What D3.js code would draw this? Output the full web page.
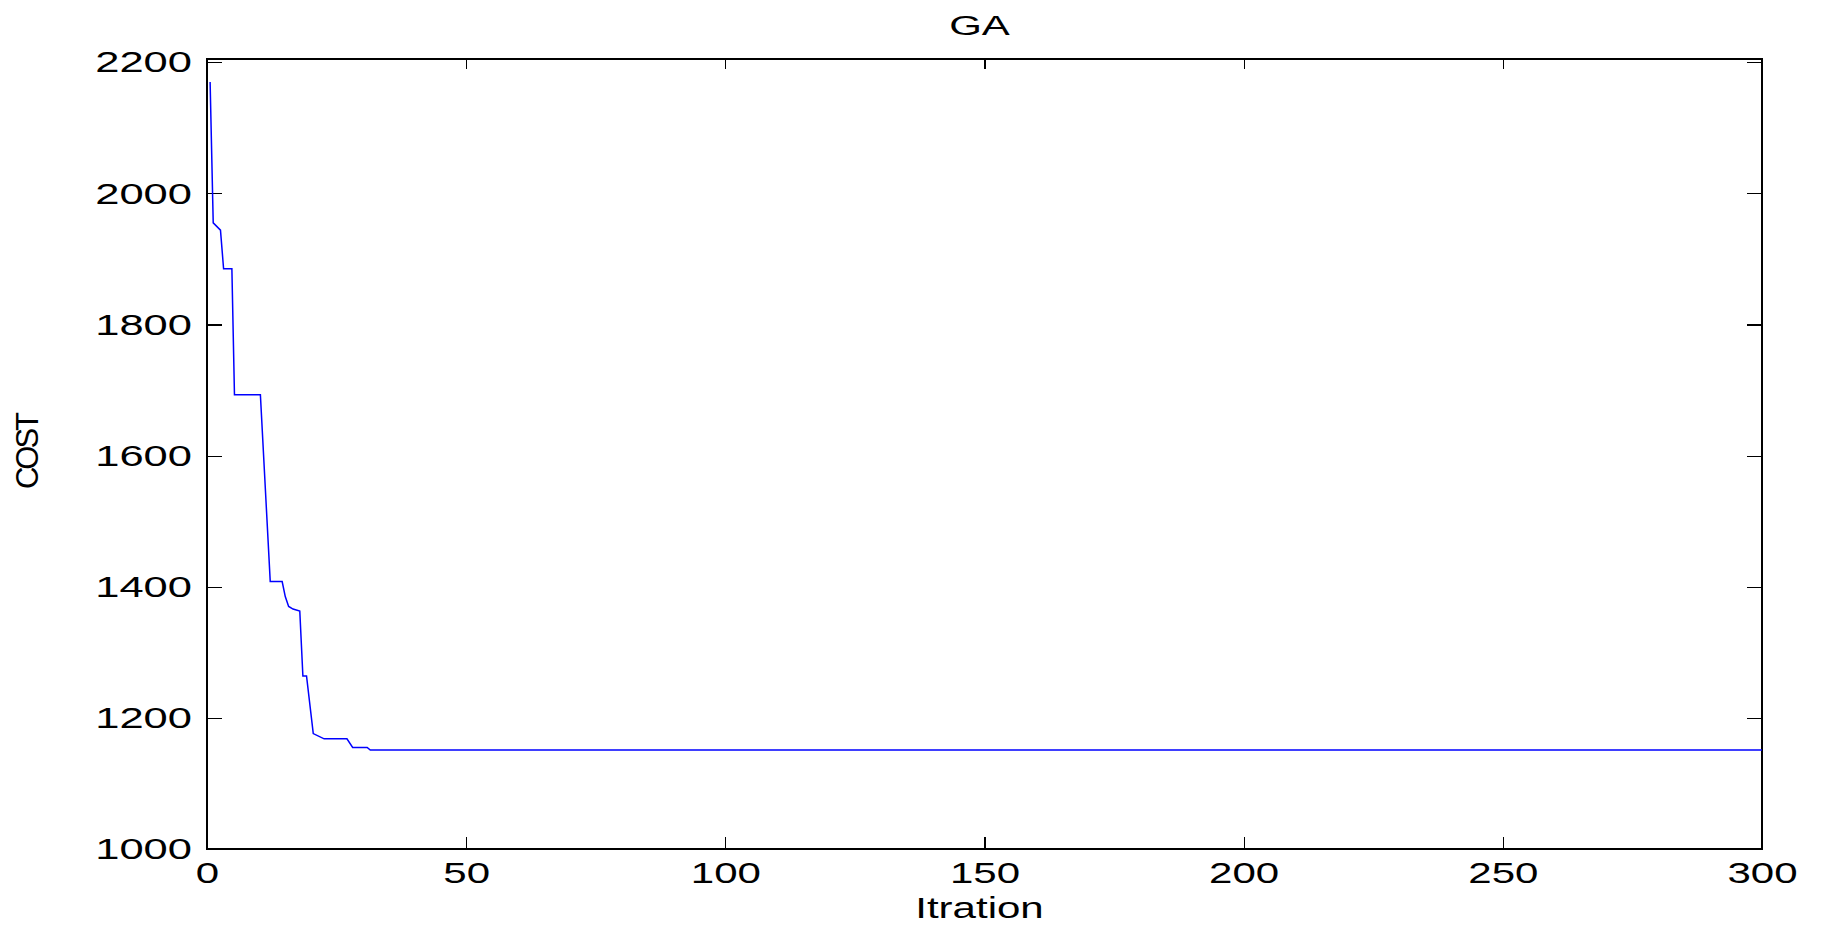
<!DOCTYPE html>
<meta charset="utf-8">
<style>
body { margin: 0; background: #fff; }
text { font-family: "Liberation Sans", Arial, sans-serif; fill: #000; }
.axis path { display: none; }
.axis line { stroke: #000; stroke-width: 1.2px; shape-rendering: crispEdges; }
.frame { fill: none; stroke: #000; stroke-width: 1.2px; shape-rendering: crispEdges; }
.line { fill: none; stroke: #0000ff; stroke-width: 1.5px; }
</style>
<svg width="1825" height="942"></svg>
<script src="https://d3js.org/d3.v7.min.js"></script>
<script>

// best cost per iteration (breakpoints)
var iterations = [0.6, 1.2, 2.6, 3.2, 4.8, 5.3, 10.3, 12.2, 14.5, 15.1, 15.75, 16.6, 17.9, 18.5, 19.2, 20.5, 22.6, 27.0, 28.1, 30.9, 31.5, 300];
var costs      = [2170, 1955, 1944, 1885, 1885, 1693, 1693, 1408, 1408, 1385, 1370, 1366, 1363, 1264, 1264, 1176, 1168, 1168, 1155, 1155, 1151, 1151];

var xTicks = [0, 50, 100, 150, 200, 250, 300];
var yTicks = [1000, 1200, 1400, 1600, 1800, 2000, 2200];

var svg = d3.select("svg"),
    margin = {top: 59, right: 63, bottom: 93, left: 207},
    width = svg.attr("width") - margin.left - margin.right,
    height = svg.attr("height") - margin.top - margin.bottom,
    g = svg.append("g").attr("transform", "translate(" + margin.left + "," + margin.top + ")");

var stretch = 1.45;  // tick labels look horizontally stretched in the original

var x = d3.scaleLinear().domain([0, 300]).range([0, width]),
    y = d3.scaleLinear().domain([1000, 2205]).range([height, 0]);

var data = iterations.map(function(d, i) { return {it: d, cost: costs[i]}; });

var line = d3.line()
    .x(function(d) { return x(d.it); })
    .y(function(d) { return y(d.cost); });

// bottom axis
var xAxis = g.append("g")
    .attr("class", "axis")
    .attr("transform", "translate(0," + height + ")")
    .call(d3.axisBottom(x).tickValues(xTicks).tickFormat(d3.format("d"))
      .tickSize(-12).tickSizeOuter(0).tickPadding(13));

xAxis.selectAll("text")
    .style("font-size", "29px")
    .attr("transform", "scale(" + stretch + ",1)");

// left axis
var yAxis = g.append("g")
    .attr("class", "axis")
    .call(d3.axisLeft(y).tickValues(yTicks).tickFormat(d3.format("d"))
      .tickSize(-15).tickSizeOuter(0).tickPadding(15));

yAxis.selectAll("text")
    .style("font-size", "30px")
    .attr("x", -15 / stretch)
    .attr("transform", "scale(" + stretch + ",1)");

// mirrored ticks on top and right
g.append("g")
    .attr("class", "axis")
    .call(d3.axisTop(x).tickValues(xTicks).tickSize(-10).tickSizeOuter(0).tickFormat(""));

g.append("g")
    .attr("class", "axis")
    .attr("transform", "translate(" + width + ",0)")
    .call(d3.axisRight(y).tickValues(yTicks).tickSize(-15).tickSizeOuter(0).tickFormat(""));

g.append("rect")
    .attr("class", "frame")
    .attr("width", width)
    .attr("height", height);

g.append("path")
    .datum(data)
    .attr("class", "line")
    .attr("d", line);

// title and axis labels
var cx = margin.left + width / 2 - 5;

svg.append("text")
    .attr("x", cx / 1.5)
    .attr("y", 35)
    .attr("text-anchor", "middle")
    .style("font-size", "28px")
    .attr("transform", "scale(1.5,1)")
    .text("GA");

svg.append("text")
    .attr("x", cx / stretch)
    .attr("y", 918)
    .attr("text-anchor", "middle")
    .style("font-size", "29px")
    .attr("transform", "scale(" + stretch + ",1)")
    .text("Itration");

svg.append("text")
    .attr("transform", "translate(38,452) rotate(-90)")
    .attr("text-anchor", "middle")
    .style("font-size", "31px")
    .style("letter-spacing", "-3px")
    .text("COST");

</script>
